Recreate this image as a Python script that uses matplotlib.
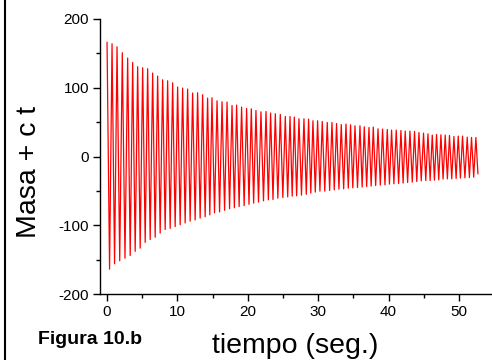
import matplotlib
matplotlib.use("Agg")
import matplotlib.pyplot as plt
from matplotlib.ticker import MultipleLocator
from matplotlib.lines import Line2D

plt.rcParams['font.family'] = ['Liberation Sans', 'DejaVu Sans']
plt.rcParams['axes.unicode_minus'] = False

# peak times (s) and peak values
t_peak = [0, 0.71, 1.42, 2.17, 2.93, 3.64, 4.35, 5.06, 5.77, 6.48, 7.19, 7.90, 8.61, 9.32,
          10.03, 10.74, 11.45, 12.16, 12.87, 13.58, 14.29, 14.91, 15.63, 16.34, 17.05, 17.76,
          18.41, 19.12, 19.83, 20.50, 21.16, 21.87, 22.59, 23.24, 23.91, 24.62, 25.33, 26.00,
          26.61, 27.27, 27.98, 28.64, 29.26, 29.92, 30.58, 31.29, 31.96, 32.61, 33.28, 33.95,
          34.60, 35.23, 35.94, 36.55, 37.22, 37.83, 38.50, 39.15, 39.82, 40.43, 41.09, 41.76,
          42.37, 43.04, 43.69, 44.32, 44.97, 45.60, 46.21, 46.82, 47.44, 48.05, 48.66, 49.29,
          49.90, 50.51, 51.18, 51.79, 52.41]
peak = [166, 164, 159.6, 150.9, 143.2, 136.8, 130.6, 129.1, 127.7, 121.4, 117, 111.6, 110.2,
        107.2, 101, 99.5, 98.1, 92.3, 92.7, 89.8, 85, 85.4, 81, 79.6, 79.2, 74.2, 74.8, 71.9,
        69.9, 69.4, 67, 65, 65.5, 63.2, 62.2, 61.1, 58.2, 58.2, 57.3, 54.9, 54.9, 54.4,
        52, 52, 50.9, 49.5, 49.5, 48, 46.6, 47.2, 46.1, 44.7, 44.7, 43.2, 42.2, 42.8, 40.3,
        39.9, 39.3, 38.4, 38.4, 37.8, 37, 37, 36.4, 34.9, 34, 33, 31.1, 32, 31.6, 31.1, 30.6,
        29.1, 29.7, 29.7, 28.2, 27.7, 27.7]

# trough times (s) and trough values
t_trough = [0.36, 1.07, 1.80, 2.55, 3.29, 4.00, 4.71, 5.42, 6.13, 6.84, 7.55, 8.26, 8.97, 9.68,
            10.39, 11.10, 11.81, 12.52, 13.23, 13.94, 14.60, 15.27, 15.99, 16.70, 17.41, 18.09,
            18.77, 19.48, 20.17, 20.83, 21.52, 22.23, 22.92, 23.58, 24.27, 24.98, 25.67, 26.31,
            26.94, 27.63, 28.31, 28.95, 29.59, 30.25, 30.94, 31.63, 32.29, 32.95, 33.62, 34.28,
            34.92, 35.59, 36.25, 36.89, 37.53, 38.17, 38.83, 39.49, 40.13, 40.76, 41.43, 42.07,
            42.71, 43.37, 44.01, 44.65, 45.29, 45.91, 46.52, 47.13, 47.75, 48.36, 48.98, 49.60,
            50.21, 50.85, 51.49, 52.10]
trough = [-163.9, -156, -151.6, -148, -144, -138, -133.3, -125, -120.7, -117.4, -111.5, -106.2,
          -104.5, -102, -99.4, -96.7, -94, -92.3, -89.7, -87.7, -84.9, -82, -80.7, -78.3, -76,
          -74.6, -72.8, -71.5, -69.6, -67.8, -66.4, -64.5, -63, -62.6, -60.6, -59.7, -58.7,
          -57.6, -57.2, -56.2, -55, -53.3, -51.8, -50.4, -50.4, -49.5, -48.5, -47.5, -47, -46,
          -45.6, -45.1, -44.5, -43.7, -43.1, -42.2, -41.6, -41.2, -40.2, -39.7, -39.3, -38.7,
          -37.8, -37.3, -36.4, -35.4, -34.9, -34.9, -34.4, -33.9, -32.9, -32.5, -32.5, -32,
          -31.4, -31, -30.6, -30]

# last recorded point
t_end = 52.7
y_end = -25

# interleave peaks and troughs into one trace
t = []
y = []
for i in range(len(t_peak)):
    t.append(t_peak[i])
    y.append(peak[i])
    if i < len(t_trough):
        t.append(t_trough[i])
        y.append(trough[i])
t.append(t_end)
y.append(y_end)

fig = plt.figure(figsize=(4.92, 3.6), dpi=100)
ax = fig.add_axes([100 / 492, 66 / 360, 392 / 492, 275 / 360])

ax.plot(t, y, color='#ff0000', linewidth=0.9)

ax.set_xlim(-1, 54.7)
ax.set_ylim(-200, 200)
ax.xaxis.set_major_locator(MultipleLocator(10))
ax.xaxis.set_minor_locator(MultipleLocator(5))
ax.yaxis.set_major_locator(MultipleLocator(100))
ax.yaxis.set_minor_locator(MultipleLocator(50))
ax.tick_params(which='major', direction='out', length=5, width=1, labelsize=11, pad=3)
ax.tick_params(which='minor', direction='out', length=3, width=1)

ax.spines['top'].set_visible(False)
ax.spines['right'].set_visible(False)
ax.spines['left'].set_linewidth(1)
ax.spines['bottom'].set_linewidth(1)

fig.text(29 / 492, 1 - 172 / 360, 'Masa + c t', rotation=90, fontsize=20.5,
         ha='center', va='center')
fig.text(295 / 492, 1 - 346 / 360, 'tiempo (seg.)', fontsize=20.5,
         ha='center', va='center')
fig.text(38 / 492, 1 - 344 / 360, 'Figura 10.b', fontsize=14, fontweight='bold',
         ha='left', va='baseline')

# frame line at left edge
fig.add_artist(Line2D([5 / 492, 5 / 492], [0, 1], color='black', linewidth=1.5,
                      transform=fig.transFigure))

fig.savefig('out.png', dpi=100)
